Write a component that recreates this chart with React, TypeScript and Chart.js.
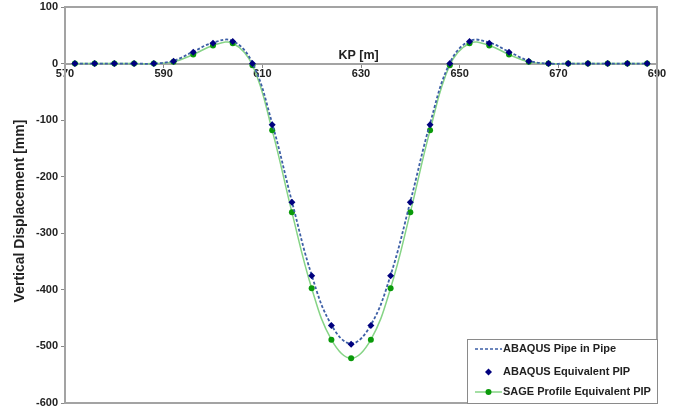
import React, { useEffect, useRef } from "react";
import { Chart, registerables } from "chart.js";

Chart.register(...registerables);

// KP positions of the plotted points [m]
const kp = [
  572, 576, 580, 584, 588, 592, 596, 600, 604, 608,
  612, 616, 620, 624, 628, 632, 636, 640, 644, 648,
  652, 656, 660, 664, 668, 672, 676, 680, 684, 688,
];

// ABAQUS Pipe in Pipe (dashed line) [mm]
const abaqusPipeInPipe = [
  0, 0, 0, 0, 0, 5, 21, 37, 40, 1,
  -106, -244, -374, -462, -495, -462, -374, -244, -106, 1,
  40, 37, 21, 5, 0, 0, 0, 0, 0, 0,
];

// ABAQUS Equivalent PIP (diamond markers) [mm]
const abaqusEquivalent = [
  0, 0, 0, 0, 0, 4, 20, 36, 39, 0,
  -108, -245, -375, -463, -496, -463, -375, -245, -108, 0,
  39, 36, 20, 4, 0, 0, 0, 0, 0, 0,
];

// SAGE Profile Equivalent PIP (green line + markers) [mm]
const sageProfile = [
  0, 0, 0, 0, 0, 3, 16, 32, 36, -3,
  -118, -263, -397, -488, -521, -488, -397, -263, -118, -3,
  36, 32, 16, 3, 0, 0, 0, 0, 0, 0,
];

const xTicks = [570, 590, 610, 630, 650, 670, 690];
const yTicks = [100, 0, -100, -200, -300, -400, -500, -600];

const seriesNames = [
  "ABAQUS Pipe in Pipe",
  "ABAQUS Equivalent PIP",
  "SAGE Profile Equivalent PIP",
];
const xTitle = "KP [m]";
const yTitle = "Vertical Displacement [mm]";

const FONT = "'Liberation Sans', Arial, sans-serif";
const DASH_COLOR = "#3d5fa6";
const DIAMOND_COLOR = "#00007e";
const GREEN_LINE = "#86d486";
const GREEN_MARK = "#0a9a0a";
const AXIS_GRAY = "#a3a3a3";

const decorPlugin = {
  id: "decor",
  beforeDatasetsDraw(chart: any) {
    const { ctx, chartArea } = chart;
    ctx.save();
    ctx.strokeStyle = AXIS_GRAY;
    ctx.lineWidth = 2;
    ctx.strokeRect(
      chartArea.left,
      chartArea.top,
      chartArea.right - chartArea.left,
      chartArea.bottom - chartArea.top
    );
    ctx.restore();
  },
  afterDraw(chart: any) {
    const { ctx, chartArea, scales } = chart;
    ctx.save();
    // x axis title
    ctx.fillStyle = "#222";
    ctx.font = `bold 12.5px ${FONT}`;
    ctx.textAlign = "center";
    ctx.textBaseline = "middle";
    ctx.fillText(xTitle, scales.x.getPixelForValue(629.5), scales.y.getPixelForValue(0) - 8);
    // y axis title
    ctx.save();
    ctx.translate(20, 211);
    ctx.rotate(-Math.PI / 2);
    ctx.font = `bold 14px ${FONT}`;
    ctx.fillText(yTitle, 0, 0);
    ctx.restore();

    // legend
    const w = 190;
    const h = 64;
    const lx = chartArea.right - w;
    const ly = chartArea.bottom - h;
    ctx.fillStyle = "#ffffff";
    ctx.fillRect(lx, ly, w, h);
    ctx.strokeStyle = "#8a8a8a";
    ctx.lineWidth = 1;
    ctx.strokeRect(lx + 0.5, ly + 0.5, w, h);
    const rows = [ly + 10, ly + 33, ly + 53];
    const sx0 = lx + 8;
    const sx1 = lx + 35;
    const tx = lx + 36;
    // row 1 dashed
    ctx.strokeStyle = DASH_COLOR;
    ctx.lineWidth = 1.6;
    ctx.setLineDash([3, 2]);
    ctx.beginPath();
    ctx.moveTo(sx0, rows[0]);
    ctx.lineTo(sx1, rows[0]);
    ctx.stroke();
    ctx.setLineDash([]);
    // row 2 diamond
    const cx = (sx0 + sx1) / 2;
    ctx.fillStyle = DIAMOND_COLOR;
    ctx.beginPath();
    ctx.moveTo(cx, rows[1] - 3.5);
    ctx.lineTo(cx + 3.5, rows[1]);
    ctx.lineTo(cx, rows[1] + 3.5);
    ctx.lineTo(cx - 3.5, rows[1]);
    ctx.closePath();
    ctx.fill();
    // row 3 green line + dot
    ctx.strokeStyle = GREEN_LINE;
    ctx.lineWidth = 1.5;
    ctx.beginPath();
    ctx.moveTo(sx0, rows[2]);
    ctx.lineTo(sx1, rows[2]);
    ctx.stroke();
    ctx.fillStyle = GREEN_MARK;
    ctx.beginPath();
    ctx.arc(cx, rows[2], 3, 0, Math.PI * 2);
    ctx.fill();
    // texts
    ctx.fillStyle = "#222";
    ctx.font = `bold 11px ${FONT}`;
    ctx.textAlign = "left";
    ctx.textBaseline = "middle";
    seriesNames.forEach((n, i) => ctx.fillText(n, tx, rows[i]));
    ctx.restore();
  },
};

export default function App() {
  const ref = useRef<HTMLCanvasElement | null>(null);

  useEffect(() => {
    if (!ref.current) return;
    const toPts = (ys: number[]) => kp.map((x, i) => ({ x, y: ys[i] }));
    const tickFont = { family: FONT, size: 11, weight: "bold" as const };
    const yTickFont = { family: FONT, size: 11, weight: "bold" as const, lineHeight: 0.1 };
    const chart = new Chart(ref.current, {
      type: "line",
      data: {
        datasets: [
          {
            label: seriesNames[0],
            data: toPts(abaqusPipeInPipe),
            borderColor: DASH_COLOR,
            borderWidth: 1.8,
            borderDash: [3, 2],
            pointRadius: 0,
            tension: 0.4,
            fill: false,
            order: 1,
          },
          {
            label: seriesNames[1],
            data: toPts(abaqusEquivalent),
            showLine: false,
            pointStyle: "rectRot",
            pointRadius: 3.5,
            pointBackgroundColor: DIAMOND_COLOR,
            pointBorderColor: DIAMOND_COLOR,
            pointBorderWidth: 0,
            order: 0,
          },
          {
            label: seriesNames[2],
            data: toPts(sageProfile),
            borderColor: GREEN_LINE,
            borderWidth: 1.5,
            pointRadius: 3,
            pointStyle: "circle",
            pointBackgroundColor: GREEN_MARK,
            pointBorderColor: GREEN_MARK,
            pointBorderWidth: 0,
            tension: 0.4,
            fill: false,
            order: 2,
          },
        ],
      },
      options: {
        responsive: false,
        animation: false,
        devicePixelRatio: 1,
        layout: { padding: { left: 0, right: 31, top: 7, bottom: 4 } },
        plugins: { legend: { display: false }, tooltip: { enabled: false } },
        scales: {
          x: {
            type: "linear",
            position: { y: 0 } as any,
            min: 570,
            max: 690,
            afterBuildTicks: (s: any) => {
              s.ticks = xTicks.map((v) => ({ value: v }));
            },
            grid: {
              display: true,
              drawOnChartArea: false,
              drawTicks: true,
              tickLength: 3,
              color: "#888",
              lineWidth: 1,
            },
            border: { display: true, color: AXIS_GRAY, width: 2 },
            ticks: {
              font: tickFont,
              color: "#222",
              padding: 1,
              maxRotation: 0,
              autoSkip: false,
            },
          },
          y: {
            type: "linear",
            min: -600,
            max: 100,
            afterBuildTicks: (s: any) => {
              s.ticks = yTicks.map((v) => ({ value: v }));
            },
            afterFit: (s: any) => {
              s.width = 65;
            },
            grid: {
              display: true,
              drawOnChartArea: false,
              drawTicks: true,
              tickLength: 4,
              color: "#888",
              lineWidth: 1,
            },
            border: { display: true, color: AXIS_GRAY, width: 2 },
            ticks: {
              font: yTickFont,
              color: "#222",
              padding: 3,
              autoSkip: false,
            },
          },
        },
      },
      plugins: [decorPlugin],
    });
    return () => chart.destroy();
  }, []);

  return (
    <div style={{ position: "absolute", left: 0, top: 0, width: 688, height: 407, background: "#fff" }}>
      <canvas ref={ref} width={688} height={407} style={{ display: "block" }} />
    </div>
  );
}
